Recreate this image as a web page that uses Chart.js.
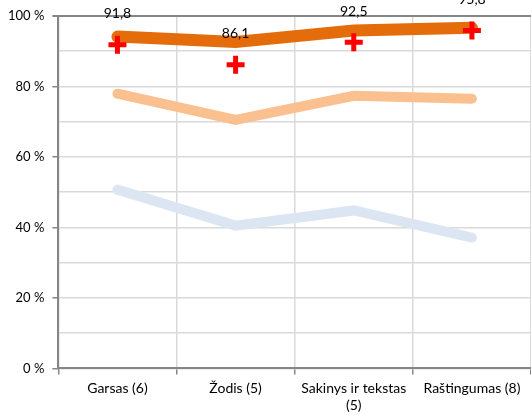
<!DOCTYPE html>
<html>
<head>
<meta charset="utf-8">
<script src="https://cdn.jsdelivr.net/npm/chart.js@4.4.1/dist/chart.umd.min.js"></script>
<style>
  html, body { margin: 0; padding: 0; background: #fff; overflow: hidden; }
  #wrap { width: 545px; height: 420px; }
</style>
</head>
<body>
<div id="wrap"><canvas id="chart"></canvas></div>
<script>
// categories and series
const categories = ['Garsas (6)', 'Žodis (5)', ['Sakinys ir tekstas', '(5)'], 'Raštingumas (8)'];
const darkOrange = [94.1, 92.6, 95.8, 96.6];
const lightOrange = [77.9, 70.5, 77.3, 76.5];
const lightBlue = [50.7, 40.5, 44.8, 37.1];
const results = [91.8, 86.1, 92.5, 95.8];

const fontFamily = 'Lato, "Open Sans", sans-serif';

// draws the value labels above the red crosses
const valueLabels = {
  id: 'valueLabels',
  afterDatasetsDraw(chart) {
    const ctx = chart.ctx;
    const meta = chart.getDatasetMeta(0);
    ctx.save();
    ctx.font = '14px ' + fontFamily;
    ctx.fillStyle = '#000';
    ctx.textAlign = 'center';
    ctx.textBaseline = 'middle';
    meta.data.forEach((pt, i) => {
      ctx.fillText(results[i].toFixed(1).replace('.', ','), pt.x, pt.y - 31);
    });
    ctx.restore();
  }
};

new Chart(document.getElementById('chart'), {
  type: 'line',
  data: {
    labels: categories,
    datasets: [
      {
        data: results,
        showLine: false,
        pointStyle: 'cross',
        pointRadius: 9,
        pointBorderWidth: 5,
        pointBorderColor: '#ff0000',
        pointBackgroundColor: '#ff0000',
        order: 0
      },
      {
        data: darkOrange,
        borderColor: '#e46c0a',
        borderWidth: 12,
        borderCapStyle: 'round',
        pointRadius: 0,
        order: 1
      },
      {
        data: lightOrange,
        borderColor: '#fac090',
        borderWidth: 10,
        borderCapStyle: 'round',
        pointRadius: 0,
        order: 2
      },
      {
        data: lightBlue,
        borderColor: '#dce6f2',
        borderWidth: 10,
        borderCapStyle: 'round',
        pointRadius: 0,
        order: 3
      }
    ]
  },
  options: {
    responsive: true,
    maintainAspectRatio: false,
    animation: false,
    layout: { padding: { top: 8, left: 0, right: 0, bottom: 0 } },
    plugins: {
      legend: { display: false },
      tooltip: { enabled: false }
    },
    scales: {
      x: {
        offset: true,
        grid: {
          offset: true,
          color: '#d9d9d9',
          lineWidth: 1.5,
          tickColor: '#868686',
          tickLength: 6
        },
        border: { color: '#868686', width: 2 },
        ticks: {
          color: '#000',
          font: { family: fontFamily, size: 14 },
          maxRotation: 0,
          autoSkip: false,
          padding: 6
        }
      },
      y: {
        min: 0,
        max: 100,
        grid: {
          color: ctx => ctx.tick && ctx.tick.value === 100 ? '#868686' : '#d9d9d9',
          lineWidth: ctx => ctx.tick && ctx.tick.value === 100 ? 2 : 1.5,
          tickColor: ctx => ctx.tick && ctx.tick.value % 20 === 0 ? '#868686' : 'rgba(0,0,0,0)',
          tickLength: 6
        },
        border: { color: '#868686', width: 2 },
        ticks: {
          stepSize: 10,
          color: '#000',
          font: { family: fontFamily, size: 13 },
          padding: 8,
          callback: v => v % 20 === 0 ? v + ' %' : ''
        }
      }
    }
  },
  plugins: [valueLabels]
});
</script>
</body>
</html>
